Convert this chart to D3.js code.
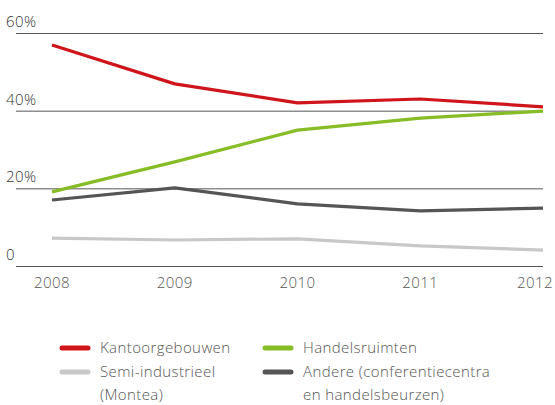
<!DOCTYPE html>
<html>
<head>
<meta charset="utf-8">
<script src="https://cdn.jsdelivr.net/npm/d3@7"></script>
<style>
  body { margin: 0; background: #fff; }
  svg { display: block; font-family: "Open Sans", "Liberation Sans", sans-serif; font-weight: 300; letter-spacing: 0.4px; }
</style>
</head>
<body>
<svg width="555" height="405"></svg>
<script>
var years = [2008, 2009, 2010, 2011, 2012];
var kantoor = [56.9, 46.9, 42.0, 43.0, 41.0];
var handel = [19.1, 26.8, 35.0, 38.1, 39.9];
var andere = [17.0, 20.1, 16.0, 14.2, 14.9];
var semi = [7.2, 6.7, 7.0, 5.2, 4.1];
var yTicks = [0, 20, 40, 60];

var series = [
    {name: ["Semi-industrieel", "(Montea)"], values: semi, color: "#c8c8c8"},
    {name: ["Andere (conferentiecentra", "en handelsbeurzen)"], values: andere, color: "#555555"},
    {name: ["Handelsruimten"], values: handel, color: "#86bc25"},
    {name: ["Kantoorgebouwen"], values: kantoor, color: "#d0141c"}
];

var svg = d3.select("svg");

var x = d3.scaleLinear().domain([2008, 2012]).range([52, 543]);
var y = d3.scaleLinear().domain([0, 60]).range([266, 33]);

// gridlines
svg.append("g")
    .selectAll("line")
    .data(yTicks)
    .enter().append("line")
    .attr("x1", 16)
    .attr("x2", 543)
    .attr("y1", function(d) { return y(d) + 0.5; })
    .attr("y2", function(d) { return y(d) + 0.5; })
    .attr("stroke", "#555")
    .attr("stroke-width", 1);

svg.append("g")
    .selectAll("text")
    .data(yTicks)
    .enter().append("text")
    .attr("x", 6)
    .attr("y", function(d) { return y(d) - 6; })
    .attr("font-size", 15)
    .attr("fill", "#333")
    .text(function(d) { return d === 0 ? "0" : d + "%"; });

svg.append("g")
    .selectAll("text")
    .data(years)
    .enter().append("text")
    .attr("x", function(d) { return Math.min(x(d), 535); })
    .attr("y", 288)
    .attr("text-anchor", "middle")
    .attr("font-size", 15)
    .attr("fill", "#555")
    .text(function(d) { return d; });

var line = d3.line()
    .x(function(d, i) { return x(years[i]); })
    .y(function(d) { return y(d); });

svg.append("g")
    .selectAll("path")
    .data(series)
    .enter().append("path")
    .attr("d", function(d) { return line(d.values); })
    .attr("fill", "none")
    .attr("stroke", function(d) { return d.color; })
    .attr("stroke-width", 3.2)
    .attr("stroke-linejoin", "round");

// legend
var legendOrder = [series[3], series[2], series[0], series[1]];
var legend = svg.append("g")
    .selectAll("g")
    .data(legendOrder)
    .enter().append("g")
    .attr("transform", function(d, i) {
        return "translate(" + (i % 2 === 0 ? 62 : 265) + "," + (i < 2 ? 348 : 372) + ")";
    });

legend.append("line")
    .attr("x1", 0)
    .attr("x2", 26)
    .attr("stroke", function(d) { return d.color; })
    .attr("stroke-width", 5)
    .attr("stroke-linecap", "round");

legend.append("text")
    .attr("x", 38)
    .attr("font-size", 15)
    .attr("fill", "#555")
    .selectAll("tspan")
    .data(function(d) { return d.name; })
    .enter().append("tspan")
    .attr("x", 38)
    .attr("dy", function(d, i) { return i === 0 ? 5 : 23; })
    .text(function(d) { return d; });
</script>
</body>
</html>
